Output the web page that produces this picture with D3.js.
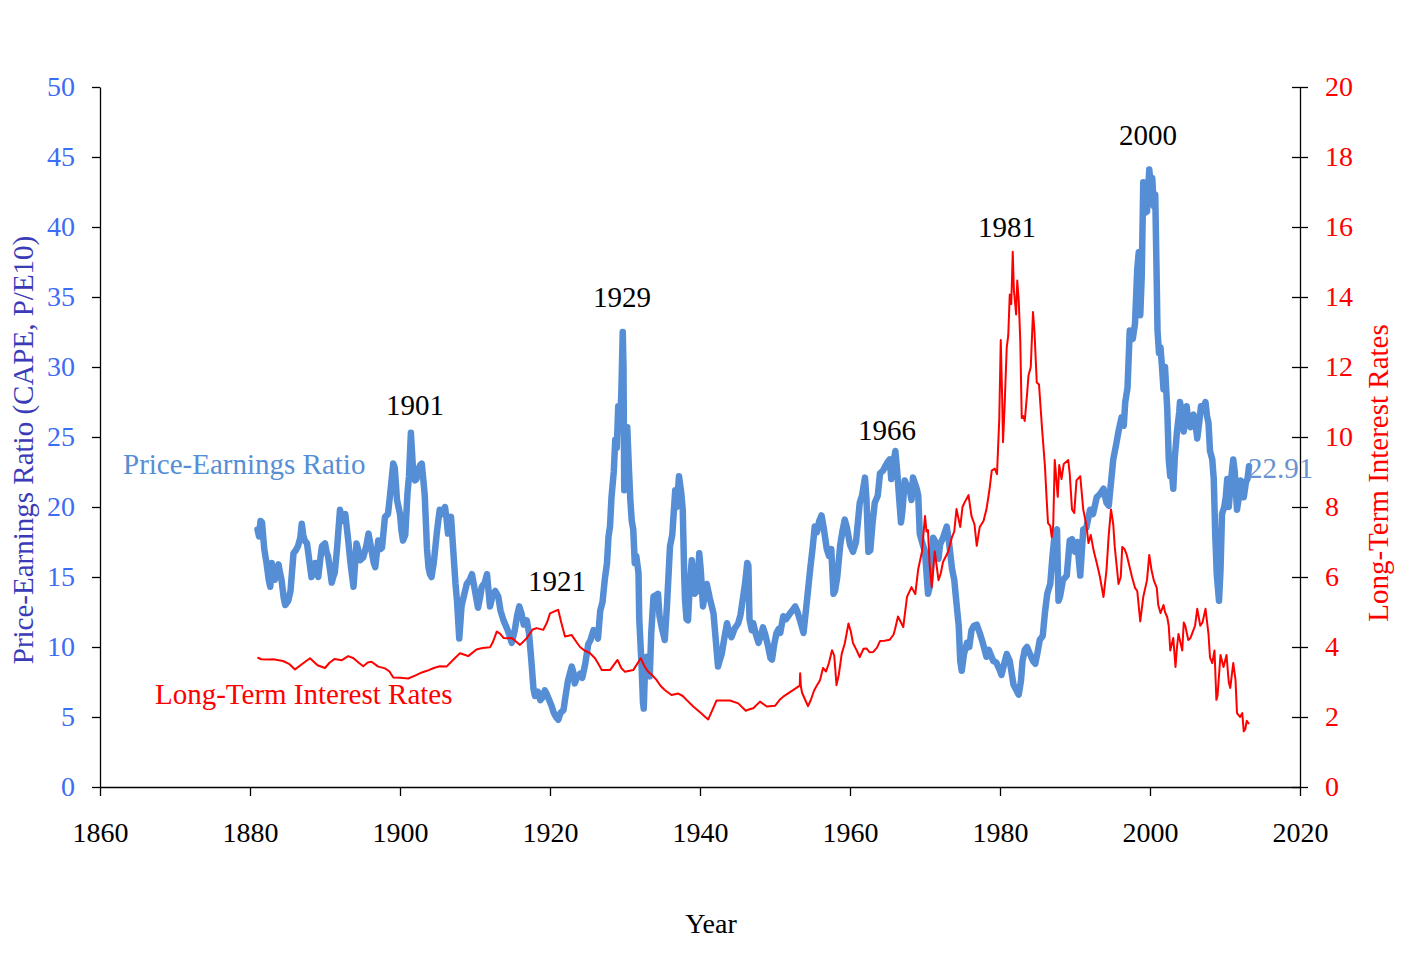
<!DOCTYPE html>
<html>
<head>
<meta charset="utf-8">
<script src="https://cdn.jsdelivr.net/npm/d3@7"></script>
<style>
  html, body { margin: 0; padding: 0; background: #fff; }
  svg { display: block; font-family: "Liberation Serif", "Times New Roman", serif; }
</style>
</head>
<body>
<svg id="chart" width="1406" height="957"></svg>
<script>
// ---------- DATA ----------
const peYears = [1881.0,1881.2,1881.4,1881.6,1881.9,1882.2,1882.5,1882.7,1882.9,1883.1,1883.3,1883.6,1883.8,1884.0,1884.2,1884.5,1884.7,1885.1,1885.4,1885.8,1886.1,1886.4,1886.7,1886.9,1887.1,1887.3,1887.6,1887.9,1888.2,1888.5,1888.7,1888.9,1889.1,1889.4,1889.6,1890.0,1890.2,1890.4,1890.7,1890.9,1891.1,1891.3,1891.6,1892.0,1892.3,1892.7,1893.1,1893.4,1893.8,1894.2,1894.5,1894.7,1895.1,1895.5,1895.8,1896.2,1896.5,1896.7,1897.1,1897.4,1897.6,1898.0,1898.4,1898.7,1899.1,1899.3,1899.6,1900.0,1900.2,1900.4,1900.7,1901.0,1901.2,1901.45,1901.7,1902.0,1902.2,1902.4,1902.7,1902.9,1903.1,1903.3,1903.6,1903.8,1904.0,1904.2,1904.5,1904.9,1905.1,1905.3,1905.6,1906.0,1906.2,1906.4,1906.6,1906.8,1907.1,1907.4,1907.6,1907.9,1908.2,1908.5,1908.9,1909.3,1909.6,1910.0,1910.4,1910.7,1910.9,1911.3,1911.6,1912.0,1912.4,1912.7,1913.1,1913.4,1913.8,1914.2,1914.5,1914.9,1915.3,1915.6,1915.9,1916.2,1916.5,1916.9,1917.2,1917.5,1917.8,1918.0,1918.4,1918.7,1919.0,1919.3,1919.6,1919.9,1920.2,1920.5,1920.8,1921.1,1921.4,1921.8,1922.1,1922.4,1922.7,1922.9,1923.1,1923.3,1923.6,1924.0,1924.3,1924.7,1925.1,1925.4,1925.8,1926.2,1926.4,1926.7,1927.0,1927.3,1927.6,1927.8,1928.0,1928.2,1928.5,1928.7,1928.9,1929.1,1929.3,1929.5,1929.7,1929.8,1929.9,1930.1,1930.3,1930.5,1930.7,1930.9,1931.1,1931.3,1931.5,1931.8,1931.9,1932.2,1932.4,1932.5,1932.7,1932.9,1933.1,1933.3,1933.5,1933.8,1934.1,1934.4,1934.6,1934.9,1935.3,1935.6,1936.0,1936.3,1936.7,1936.9,1937.2,1937.5,1937.7,1937.9,1938.0,1938.2,1938.4,1938.6,1938.9,1939.1,1939.3,1939.6,1939.9,1940.1,1940.4,1940.7,1940.9,1941.3,1941.8,1942.1,1942.4,1942.6,1942.9,1943.2,1943.6,1943.9,1944.2,1944.6,1945.1,1945.4,1945.7,1946.0,1946.3,1946.45,1946.6,1946.9,1947.1,1947.4,1947.8,1948.1,1948.4,1948.7,1949.1,1949.4,1949.6,1949.9,1950.2,1950.5,1950.7,1951.1,1951.5,1952.0,1952.3,1952.7,1953.0,1953.4,1953.8,1954.2,1954.7,1955.0,1955.3,1955.6,1955.9,1956.2,1956.5,1956.9,1957.2,1957.5,1957.8,1958.0,1958.3,1958.7,1959.0,1959.3,1959.6,1960.0,1960.4,1960.8,1961.3,1961.6,1962.0,1962.2,1962.45,1962.7,1963.0,1963.3,1963.7,1964.0,1964.4,1964.7,1965.0,1965.3,1965.5,1965.8,1966.05,1966.3,1966.5,1966.8,1967.0,1967.3,1967.6,1968.0,1968.2,1968.4,1968.9,1969.1,1969.3,1969.6,1970.0,1970.4,1970.6,1971.1,1971.4,1971.8,1972.0,1972.4,1972.9,1973.2,1973.6,1973.9,1974.2,1974.5,1974.7,1974.9,1975.2,1975.6,1975.9,1976.2,1976.5,1976.9,1977.3,1977.7,1978.2,1978.5,1978.8,1979.1,1979.5,1980.0,1980.2,1980.6,1980.9,1981.3,1981.8,1982.1,1982.5,1982.8,1983.0,1983.3,1983.6,1984.0,1984.4,1984.7,1985.0,1985.3,1985.7,1986.0,1986.3,1986.7,1987.0,1987.3,1987.6,1987.8,1988.0,1988.4,1988.9,1989.3,1989.6,1990.0,1990.3,1990.7,1991.1,1991.5,1992.0,1992.4,1992.9,1993.3,1993.8,1994.2,1994.5,1995.1,1995.5,1995.8,1996.2,1996.5,1996.7,1997.0,1997.3,1997.7,1998.0,1998.3,1998.5,1998.7,1998.9,1999.1,1999.3,1999.6,1999.9,2000.1,2000.3,2000.5,2000.7,2000.9,2001.0,2001.2,2001.4,2001.6,2001.8,2002.0,2002.3,2002.5,2002.7,2002.9,2003.1,2003.3,2003.6,2003.9,2004.0,2004.3,2004.5,2004.9,2005.1,2005.4,2005.8,2006.0,2006.3,2006.6,2006.8,2007.1,2007.4,2007.6,2007.8,2008.0,2008.3,2008.5,2008.7,2008.9,2009.2,2009.4,2009.6,2009.9,2010.1,2010.3,2010.5,2010.8,2011.1,2011.3,2011.6,2011.8,2012.1,2012.3,2012.5,2012.8,2013.0,2013.2];
const peValues = [18.4,17.9,19.0,18.9,17.0,16.0,14.8,14.3,16.0,15.2,14.8,15.4,15.9,15.3,14.8,13.5,13.0,13.3,14.0,16.7,16.9,17.2,17.8,18.8,18.0,17.6,17.4,16.2,15.0,15.6,16.0,15.3,15.0,16.4,17.2,17.4,16.8,16.5,15.4,14.6,15.0,15.3,17.0,19.8,19.0,19.5,17.6,16.0,14.3,17.4,16.8,16.2,16.4,17.2,18.1,16.9,16.0,15.7,17.6,17.0,17.1,19.3,19.5,21.0,23.1,22.8,20.5,19.5,18.3,17.6,18.0,21.0,22.2,25.3,23.0,21.9,22.0,22.6,23.0,23.1,22.0,20.8,17.0,15.7,15.2,15.0,16.0,18.1,19.0,19.8,19.5,20.0,19.2,18.1,19.0,19.3,16.9,14.5,13.3,10.6,12.9,13.6,14.5,14.8,15.2,14.0,12.8,13.6,14.3,14.6,15.2,12.9,13.8,14.0,13.6,12.6,11.9,11.4,11.0,10.3,11.2,12.2,12.9,12.4,11.6,11.9,11.0,9.1,7.0,6.5,6.8,6.2,6.4,6.9,6.6,6.2,5.8,5.3,5.0,4.8,5.3,5.5,6.6,7.6,8.2,8.6,8.2,7.4,7.8,8.1,7.8,8.8,10.2,10.5,11.2,11.0,10.6,12.6,13.2,14.8,16.0,17.9,18.6,20.7,22.5,24.8,24.2,27.2,25.5,28.0,32.5,30.0,21.2,22.5,25.7,23.0,20.6,19.0,18.4,16.0,16.5,15.3,12.0,8.8,6.0,5.6,9.0,9.3,8.5,7.9,11.0,13.6,13.7,13.8,12.2,11.4,10.5,13.0,17.2,18.0,21.2,20.0,22.2,21.0,19.8,15.0,13.4,12.0,11.9,14.0,16.2,15.0,13.8,14.0,16.7,15.5,12.9,14.0,14.5,13.5,12.4,10.5,8.6,9.0,9.5,10.5,11.7,11.0,10.7,11.3,11.7,12.3,13.4,14.5,16.0,15.8,12.0,11.2,11.7,11.0,10.3,10.8,11.4,10.9,10.0,9.2,9.1,10.2,11.0,11.3,11.0,12.2,12.0,12.4,12.6,12.9,12.5,11.8,11.0,13.0,15.6,17.0,18.6,18.2,19.0,19.4,18.5,17.0,16.5,17.0,13.8,14.0,15.0,17.3,18.3,19.1,18.5,17.3,16.8,17.5,20.3,20.8,22.1,20.5,16.8,16.9,18.8,20.3,20.8,22.4,22.6,22.9,23.2,23.4,22.0,23.2,24.0,22.5,21.0,18.9,19.8,21.9,21.5,21.1,20.5,22.1,21.3,20.8,18.1,17.5,16.8,13.8,14.2,17.8,17.5,16.3,17.3,17.8,18.6,17.5,15.6,14.8,13.1,11.5,9.0,8.3,9.5,10.3,10.0,11.2,11.5,11.6,11.0,10.3,9.3,9.8,9.4,9.0,8.9,8.3,8.0,8.9,9.5,9.0,7.3,7.0,6.6,7.6,9.0,9.8,10.0,9.5,9.0,8.8,9.6,10.5,10.8,12.5,13.8,14.5,16.5,18.1,18.4,13.3,13.6,14.8,15.1,17.6,17.7,16.8,17.5,15.1,18.4,18.5,19.8,19.5,20.7,20.9,21.3,20.3,20.1,23.4,24.5,25.4,26.4,25.8,27.5,28.5,32.6,32.0,33.1,37.0,38.2,33.7,36.5,43.2,41.0,41.1,44.1,43.0,43.5,41.5,42.3,36.0,32.6,31.0,31.4,30.0,28.4,30.0,27.0,23.4,22.2,22.5,21.3,23.5,25.4,26.8,27.5,26.5,25.4,27.2,26.0,25.7,26.6,26.2,24.9,26.2,27.2,27.0,27.5,26.5,26.0,24.0,23.4,22.0,18.0,15.2,13.3,15.5,19.5,20.0,20.7,22.0,20.0,21.9,23.4,22.5,19.8,20.5,21.9,21.5,20.7,21.8,22.0,22.91];

const rateYears = [1881.0,1881.5,1882.5,1883.1,1884.4,1885.2,1886.0,1887.0,1888.0,1889.0,1890.0,1890.6,1891.3,1892.2,1893.1,1893.8,1894.5,1895.1,1895.7,1896.2,1897.1,1898.0,1898.6,1899.1,1900.0,1901.1,1902.0,1903.0,1903.6,1904.5,1905.3,1906.2,1907.3,1908.0,1908.6,1909.1,1910.2,1911.0,1912.0,1912.4,1912.9,1913.3,1913.8,1914.3,1914.9,1915.5,1916.0,1916.9,1917.2,1917.7,1918.2,1919.1,1919.6,1920.0,1920.6,1921.1,1921.5,1922.0,1922.9,1923.5,1924.0,1924.6,1925.3,1926.0,1926.5,1926.9,1928.0,1929.0,1929.5,1930.0,1931.1,1932.1,1932.6,1933.1,1933.6,1934.2,1934.7,1935.3,1936.2,1937.1,1937.7,1938.2,1939.1,1940.2,1940.7,1941.1,1942.2,1944.0,1945.1,1946.1,1946.6,1947.1,1948.0,1948.9,1950.0,1950.7,1951.1,1952.0,1953.1,1953.3,1953.35,1953.45,1953.6,1954.0,1954.4,1954.8,1955.2,1955.6,1956.0,1956.4,1956.8,1957.2,1957.6,1957.9,1958.2,1958.5,1958.9,1959.3,1959.8,1960.1,1960.4,1960.9,1961.3,1961.8,1962.2,1962.6,1963.1,1963.6,1964.0,1964.6,1965.3,1965.8,1966.0,1966.4,1966.8,1967.1,1967.6,1968.2,1968.7,1969.1,1969.6,1970.0,1970.2,1970.4,1970.6,1970.9,1971.3,1971.8,1972.1,1972.4,1973.1,1973.6,1973.9,1974.2,1974.7,1975.0,1975.3,1975.8,1976.2,1976.6,1976.9,1977.3,1977.8,1978.2,1978.6,1978.9,1979.3,1979.6,1979.9,1980.1,1980.3,1980.4,1980.6,1980.9,1981.1,1981.3,1981.5,1981.7,1981.85,1982.0,1982.15,1982.3,1982.5,1982.7,1982.9,1983.1,1983.3,1983.6,1983.8,1984.1,1984.4,1984.6,1984.9,1985.2,1985.6,1986.0,1986.2,1986.4,1986.7,1986.9,1987.1,1987.3,1987.7,1987.9,1988.2,1988.5,1989.1,1989.3,1989.6,1989.9,1990.2,1990.7,1991.1,1991.5,1991.8,1992.1,1992.5,1992.9,1993.3,1993.8,1994.2,1994.5,1994.8,1995.1,1995.3,1995.8,1996.1,1996.3,1996.6,1996.9,1997.3,1997.6,1998.0,1998.3,1998.7,1999.1,1999.6,1999.9,2000.2,2000.5,2000.9,2001.1,2001.4,2001.8,2002.0,2002.3,2002.5,2002.7,2003.1,2003.4,2003.6,2003.8,2004.3,2004.5,2004.7,2005.1,2005.4,2005.8,2006.0,2006.3,2006.7,2007.0,2007.4,2007.8,2008.0,2008.3,2008.6,2008.85,2009.0,2009.4,2009.8,2010.2,2010.5,2010.7,2011.1,2011.4,2011.6,2012.0,2012.3,2012.5,2012.7,2012.9,2013.2];
const rateValues = [3.70,3.65,3.64,3.65,3.60,3.52,3.36,3.52,3.68,3.48,3.40,3.55,3.66,3.62,3.74,3.68,3.55,3.45,3.56,3.58,3.44,3.39,3.30,3.13,3.12,3.10,3.18,3.28,3.32,3.40,3.45,3.44,3.68,3.82,3.78,3.74,3.93,3.97,3.99,4.15,4.44,4.39,4.26,4.25,4.26,4.15,4.06,4.25,4.35,4.50,4.54,4.49,4.70,4.96,5.02,5.06,4.70,4.30,4.34,4.15,4.00,3.90,3.83,3.68,3.50,3.34,3.34,3.63,3.40,3.29,3.34,3.68,3.45,3.29,3.20,3.06,2.90,2.77,2.63,2.67,2.60,2.49,2.30,2.10,2.00,1.93,2.47,2.47,2.39,2.18,2.22,2.25,2.44,2.30,2.32,2.51,2.58,2.71,2.87,2.90,3.25,2.88,2.70,2.50,2.31,2.50,2.75,2.91,3.05,3.40,3.30,3.55,3.91,3.75,2.91,3.20,3.81,4.10,4.67,4.45,4.11,3.90,3.71,3.95,3.96,3.85,3.86,3.98,4.17,4.18,4.21,4.35,4.51,4.87,4.70,4.57,5.43,5.71,5.51,6.23,6.73,7.74,7.30,7.34,6.40,5.71,6.73,5.91,6.10,6.43,6.73,7.14,7.30,7.94,7.43,8.00,8.14,8.34,7.74,7.50,6.89,7.43,7.60,7.94,8.50,9.04,9.10,8.94,10.50,12.77,11.00,9.85,10.80,12.57,12.90,14.07,13.80,15.29,14.20,13.87,13.50,14.47,13.90,12.77,10.54,10.60,10.46,11.20,11.76,12.00,13.57,13.00,11.56,11.50,10.26,9.14,8.30,7.54,7.46,7.14,7.50,9.34,8.29,9.20,8.80,9.23,9.34,8.94,7.93,7.83,8.76,8.88,7.93,7.50,6.97,7.20,6.74,6.40,6.03,5.43,6.20,7.21,7.93,7.50,6.86,5.80,6.00,6.86,6.80,6.63,6.27,6.00,5.69,5.60,4.73,5.43,5.91,6.63,6.20,5.91,5.69,5.20,4.97,5.20,5.00,4.85,4.60,3.90,4.26,3.43,4.00,4.37,3.90,4.70,4.61,4.20,4.26,4.49,4.60,5.09,4.61,4.70,5.09,4.37,3.70,3.54,3.90,2.49,2.60,3.77,3.43,3.77,3.00,2.83,3.54,3.06,2.11,2.00,2.11,1.59,1.65,1.89,1.80];

const xTicks = [1860, 1880, 1900, 1920, 1940, 1960, 1980, 2000, 2020];
const peTicks = [0, 5, 10, 15, 20, 25, 30, 35, 40, 45, 50];
const rateTicks = [0, 2, 4, 6, 8, 10, 12, 14, 16, 18, 20];
const peakLabels = ["1901", "1921", "1929", "1966", "1981", "2000"];
const lastPE = "22.91";

// ---------- LAYOUT ----------
const W = 1406, H = 957;
const plot = { left: 100, right: 1300, top: 87, bottom: 787 };
const FONT = '"Liberation Serif", "Times New Roman", serif';
const COL = { pe: "#558ed5", rate: "#ff0000", peTick: "#3d6cf5", peTitle: "#3b3bb8" };

const svg = d3.select("#chart");

const x = d3.scaleLinear().domain([1860, 2020]).range([plot.left, plot.right]);
const yL = d3.scaleLinear().domain([0, 50]).range([plot.bottom, plot.top]);
const yR = d3.scaleLinear().domain([0, 20]).range([plot.bottom, plot.top]);

// label anchors, in data coordinates (year, left-axis value)
const peakPos = [[1902.0, 26.57], [1920.93, 14.0], [1929.6, 34.29], [1964.93, 24.79], [1980.93, 39.29], [1999.73, 45.86]];

// ---------- AXES ----------
const gx = svg.append("g").attr("transform", `translate(0,${plot.bottom})`)
  .call(d3.axisBottom(x).tickValues(xTicks).tickFormat(d3.format("d")).tickSize(9).tickSizeOuter(0));
gx.selectAll("text").attr("fill", "#000").attr("font-size", 28).attr("font-family", FONT).attr("dy", "1.55em");

const gl = svg.append("g").attr("transform", `translate(${plot.left},0)`)
  .call(d3.axisLeft(yL).tickValues(peTicks).tickSize(8).tickSizeOuter(0));
gl.selectAll("text").attr("fill", COL.peTick).attr("font-size", 28).attr("font-family", FONT).attr("x", -25);

const gr = svg.append("g").attr("transform", `translate(${plot.right},0)`)
  .call(d3.axisRight(yR).tickValues(rateTicks).tickSize(8).tickSizeOuter(0));
gr.selectAll(".tick line").attr("x1", -8);
gr.selectAll("text").attr("fill", COL.rate).attr("font-size", 28).attr("font-family", FONT).attr("x", 25);

svg.selectAll(".domain, .tick line").attr("stroke", "#000").attr("stroke-width", 1.3);

// ---------- LINES ----------
const peData = peYears.map((yr, i) => [yr, peValues[i]]);
const rateData = rateYears.map((yr, i) => [yr, rateValues[i]]);

svg.append("path").datum(peData)
  .attr("fill", "none").attr("stroke", COL.pe).attr("stroke-width", 6.5)
  .attr("stroke-linejoin", "round").attr("stroke-linecap", "round")
  .attr("d", d3.line().x(d => x(d[0])).y(d => yL(d[1])));

svg.append("path").datum(rateData)
  .attr("fill", "none").attr("stroke", COL.rate).attr("stroke-width", 2)
  .attr("stroke-linejoin", "round")
  .attr("d", d3.line().x(d => x(d[0])).y(d => yR(d[1])));

// ---------- TEXT ----------
peakLabels.forEach((t, i) => {
  svg.append("text").attr("x", x(peakPos[i][0])).attr("y", yL(peakPos[i][1]))
    .attr("text-anchor", "middle").attr("font-size", 29).attr("font-family", FONT)
    .attr("fill", "#000").text(t);
});

svg.append("text").attr("x", x(1863.07)).attr("y", yL(22.36))
  .attr("font-size", 29).attr("font-family", FONT).attr("fill", COL.pe).text("Price-Earnings Ratio");
svg.append("text").attr("x", x(1867.33)).attr("y", yL(5.93))
  .attr("font-size", 29).attr("font-family", FONT).attr("fill", COL.rate).text("Long-Term Interest Rates");
svg.append("text").attr("x", x(peYears[peYears.length - 1]) - 1).attr("y", yL(22.07))
  .attr("font-size", 29).attr("font-family", FONT).attr("fill", "#6a93d0").text(lastPE);

svg.append("text").attr("transform", "translate(33,450) rotate(-90)")
  .attr("text-anchor", "middle").attr("font-size", 29).attr("font-family", FONT)
  .attr("fill", COL.peTitle).text("Price-Earnings Ratio (CAPE, P/E10)");
svg.append("text").attr("transform", "translate(1388,473) rotate(-90)")
  .attr("text-anchor", "middle").attr("font-size", 29).attr("font-family", FONT)
  .attr("fill", COL.rate).text("Long-Term Interest Rates");
svg.append("text").attr("x", 711).attr("y", 933)
  .attr("text-anchor", "middle").attr("font-size", 28).attr("font-family", FONT)
  .attr("fill", "#000").text("Year");
</script>
</body>
</html>
